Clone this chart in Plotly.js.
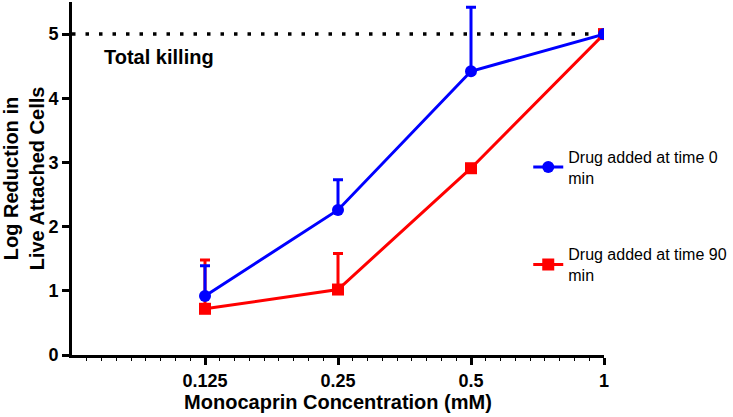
<!DOCTYPE html>
<html>
<head>
<meta charset="utf-8">
<script src="https://cdn.plot.ly/plotly-3.0.1.min.js"></script>
<style>html,body{margin:0;padding:0;background:#fff;}#chart{width:733px;height:417px;}</style>
</head>
<body>
<div id="chart"></div>
<script>
const concentrations = [0.125, 0.25, 0.5, 1];
const tickLabels = ["0.125", "0.25", "0.5", "1"];
const drug0Mean = [0.92, 2.26, 4.42, 5.0];
const drug0ErrUp = [0.47, 0.47, 1.0, 0];
const drug90Mean = [0.72, 1.02, 2.91, 5.0];
const drug90ErrUp = [0.76, 0.56, 0, 0];
const totalKilling = 5;
const seriesNames = ["Drug added at time 0<br>min", "Drug added at time 90<br>min"];
const zeros = concentrations.map(() => 0);

const FONT = "Arial, 'Liberation Sans', sans-serif";

// minor tick positions (log2-evenly spaced between octaves)
const minorVals = [];
for (let o = -4; o < 0; o++) {
  for (let k = 1; k < 9; k++) minorVals.push(Math.pow(2, o + k / 9));
}

// red drawn first so blue sits on top; legend order set by legendrank
const traces = [
  {
    x: concentrations, y: drug90Mean, name: seriesNames[1], type: "scatter", mode: "lines+markers",
    legendgroup: "b", legendrank: 2,
    line: {color: "#ff0000", width: 3},
    marker: {color: "#ff0000", size: 12, symbol: "square"},
    error_y: {type: "data", symmetric: false, array: drug90ErrUp, arrayminus: zeros, color: "#ff0000", thickness: 3, width: 5}
  },
  {
    x: concentrations, y: drug0Mean, name: seriesNames[0], type: "scatter", mode: "lines+markers",
    legendgroup: "a", legendrank: 1,
    line: {color: "#0000ff", width: 3},
    marker: {color: "#0000ff", size: 12, symbol: "circle"},
    error_y: {type: "data", symmetric: false, array: drug0ErrUp, arrayminus: zeros, color: "#0000ff", thickness: 3, width: 5}
  }
];

const layout = {
  width: 733, height: 417,
  margin: {l: 72, r: 128, t: 2, b: 62},
  paper_bgcolor: "#fff", plot_bgcolor: "#fff",
  font: {family: FONT, color: "#000"},
  showlegend: true,
  legend: {
    x: 0.856, xanchor: "left", y: 0.61, yanchor: "top",
    traceorder: "grouped", tracegroupgap: 53,
    font: {family: FONT, size: 16, color: "#000"},
    bgcolor: "rgba(0,0,0,0)"
  },
  xaxis: {
    type: "log",
    range: [Math.log10(0.0625), Math.log10(1)],
    tickmode: "array", tickvals: concentrations, ticktext: tickLabels,
    ticks: "outside", ticklen: 7, tickwidth: 3, tickcolor: "#000",
    showline: true, linewidth: 3, linecolor: "#000",
    showgrid: false, zeroline: false,
    tickfont: {family: FONT, size: 18, color: "#000", weight: "bold"},
    minor: {tickmode: "array", tickvals: minorVals, ticks: "outside", ticklen: 3, tickwidth: 1, tickcolor: "#000", showgrid: false},
    title: {text: "Monocaprin Concentration (mM)", font: {family: FONT, size: 20, color: "#000", weight: "bold"}, standoff: 3}
  },
  yaxis: {
    range: [0, 5.5],
    tickvals: [0, 1, 2, 3, 4, 5],
    ticks: "outside", ticklen: 7, tickwidth: 3, tickcolor: "#000",
    showline: true, linewidth: 3, linecolor: "#000",
    showgrid: false, zeroline: false,
    tickfont: {family: FONT, size: 18, color: "#000", weight: "bold"},
    title: {text: "Log Reduction in<br>Live Attached Cells", font: {family: FONT, size: 20, color: "#000", weight: "bold"}, standoff: 6}
  },
  shapes: [{
    type: "line", xref: "paper", x0: 0, x1: 1, yref: "y", y0: totalKilling, y1: totalKilling,
    line: {color: "#000", width: 3.5, dash: "3.5px,10px"}, layer: "below"
  }],
  annotations: [{
    xref: "paper", x: 0.056, xanchor: "left", yref: "y", y: totalKilling - 0.36, yanchor: "middle",
    text: "Total killing", showarrow: false,
    font: {family: FONT, size: 20, color: "#000", weight: "bold"}
  }]
};

Plotly.newPlot("chart", traces, layout, {displayModeBar: false, staticPlot: true});
</script>
</body>
</html>
